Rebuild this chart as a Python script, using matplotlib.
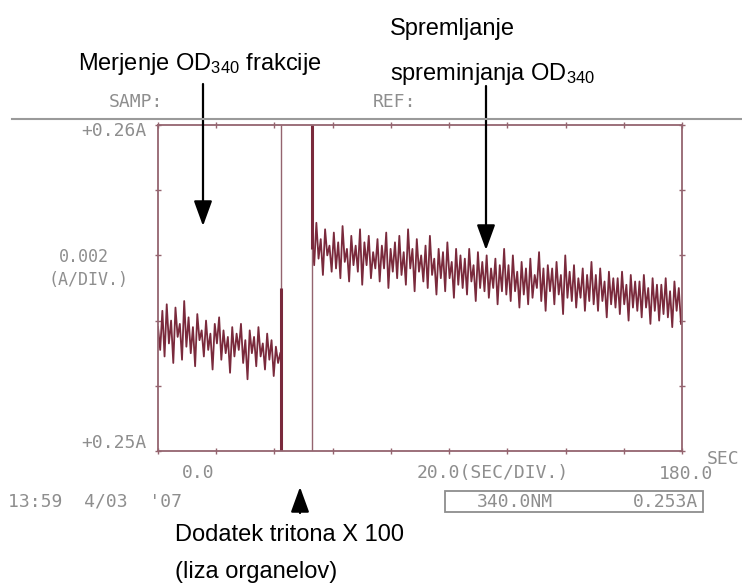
import numpy as np
import matplotlib
matplotlib.use('Agg')
import matplotlib.pyplot as plt
from matplotlib.lines import Line2D
from matplotlib.patches import Rectangle, FancyArrowPatch

plt.rcParams['mathtext.fontset'] = 'custom'
plt.rcParams['mathtext.rm'] = 'Liberation Sans'
plt.rcParams['mathtext.it'] = 'Liberation Sans:italic'

# recorder settings
t_min, t_max, t_div = 0.0, 180.0, 20.0
a_min, a_max, a_div = 0.250, 0.260, 0.002
dt = 0.75  # sample spacing (s)

# absorbance x 1e4, before triton (t = 0 .. 42 s)
seg1 = [2538, 2531, 2543, 2529, 2545, 2533, 2540, 2527, 2544, 2535,
        2539, 2528, 2546, 2532, 2541, 2530, 2538, 2526, 2542, 2534,
        2537, 2529, 2540, 2531, 2536, 2525, 2539, 2533, 2541, 2528,
        2537, 2530, 2535, 2524, 2538, 2529, 2536, 2531, 2539, 2527,
        2534, 2522, 2537, 2530, 2535, 2526, 2538, 2529, 2533, 2525,
        2536, 2528, 2534, 2523, 2532, 2527, 2530]
seg1_start = 0.0

# absorbance x 1e4, after triton (t = 52.9 .. 180 s)
seg2 = [2566, 2557, 2570, 2559, 2565, 2554, 2568, 2560, 2563, 2555,
        2567, 2556, 2564, 2553, 2569, 2558, 2562, 2552, 2566, 2557,
        2563, 2555, 2568, 2551, 2564, 2557, 2566, 2553, 2561, 2556,
        2565, 2552, 2563, 2556, 2567, 2550, 2562, 2555, 2564, 2553,
        2566, 2554, 2561, 2551, 2568, 2556, 2562, 2549, 2565, 2555,
        2560, 2552, 2563, 2550, 2566, 2554, 2559, 2548, 2562, 2553,
        2561, 2549, 2564, 2553, 2558, 2547, 2562, 2551, 2560, 2550,
        2559, 2548, 2562, 2552, 2557, 2546, 2561, 2550, 2558, 2549,
        2560, 2547, 2556, 2550, 2559, 2545, 2557, 2549, 2562, 2548,
        2557, 2546, 2560, 2549, 2555, 2544, 2558, 2548, 2556, 2545,
        2559, 2547, 2554, 2550, 2561, 2546, 2556, 2543, 2557, 2549,
        2556, 2545, 2558, 2548, 2554, 2542, 2560, 2547, 2555, 2546,
        2557, 2544, 2553, 2547, 2556, 2543, 2554, 2546, 2558, 2545,
        2554, 2543, 2556, 2546, 2552, 2541, 2555, 2545, 2553, 2544,
        2553, 2542, 2555, 2545, 2551, 2540, 2554, 2544, 2552, 2543,
        2552, 2541, 2554, 2544, 2550, 2539, 2553, 2543, 2551, 2540,
        2551, 2542, 2553, 2541, 2549, 2538, 2552, 2543, 2550, 2539]
seg2_start = 52.9

# pen jumps when triton was added
drop_t, drop_top = 42.3, 0.2550
jump_t, jump_bottom = 52.9, 0.2562

date_txt = "13:59  4/03  '07"
wave_txt = "340.0NM"
read_txt = "0.253A"

trace_c = '#7a2a3c'
frame_c = '#94646f'
print_c = '#8e8e8e'

fig = plt.figure(figsize=(7.42, 5.86), dpi=100)
W, H = 742, 586
ax = fig.add_axes([158 / W, 1 - 451 / H, 524 / W, 326 / H])

t1 = seg1_start + dt * np.arange(len(seg1))
t2 = seg2_start + dt * np.arange(len(seg2))
ax.plot(t1, np.array(seg1) / 1e4, color=trace_c, lw=1.3)
ax.plot(t2, np.array(seg2) / 1e4, color=trace_c, lw=1.3)

ax.vlines([drop_t, jump_t], a_min, a_max, color=frame_c, lw=1.0)
ax.vlines(drop_t, a_min, drop_top, color=trace_c, lw=2.2)
ax.vlines(jump_t, jump_bottom, a_max, color=trace_c, lw=2.2)

ax.set_xlim(t_min, t_max)
ax.set_ylim(a_min, a_max)
ax.set_xticks(np.arange(t_min, t_max + 1, t_div))
ax.set_yticks(np.arange(a_min, a_max + 1e-6, a_div))
ax.tick_params(direction='inout', length=5, width=1, color=frame_c,
               top=True, right=True, labelbottom=False, labelleft=False)
for s in ax.spines.values():
    s.set_color(frame_c)
    s.set_linewidth(1.3)


def ptxt(x, y, s, ha='center', size=13):
    # printer text, x/y in pixels from top-left
    fig.text(x / W, 1 - y / H, s, ha=ha, va='center', family='DejaVu Sans Mono',
             color=print_c, fontsize=size)


# printout texts
fig.add_artist(Line2D([12 / W, 1.0], [1 - 119 / H] * 2, color='#9a9a9a', lw=1.5))
ptxt(136, 102, 'SAMP:')
ptxt(395, 102, 'REF:')
ptxt(146, 131, '+0.26A', ha='right')
ptxt(146, 443, '+0.25A', ha='right')
ptxt(84, 257, '0.002', size=12)
ptxt(88, 280, '(A/DIV.)', size=12)
ptxt(198, 473, '0.0')
ptxt(493, 473, '20.0(SEC/DIV.)')
ptxt(686, 474, '180.0')
ptxt(723, 459, 'SEC')
ptxt(8, 502, date_txt, ha='left')
fig.add_artist(Rectangle((445 / W, 1 - 512 / H), 258 / W, 21 / H,
                         transform=fig.transFigure, fill=False, ec=print_c, lw=1.3))
ptxt(515, 502, wave_txt)
ptxt(698, 502, read_txt, ha='right')

# annotations (baseline positions)
sans = dict(family='Liberation Sans', color='black', fontsize=17, ha='left', va='baseline')
fig.text(78 / W, 1 - 70 / H, r'Merjenje OD$_{340}$ frakcije', **sans)
fig.text(390 / W, 1 - 35 / H, 'Spremljanje', **sans)
fig.text(390 / W, 1 - 80 / H, r'spreminjanja OD$_{340}$', **sans)
fig.text(175 / W, 1 - 541 / H, 'Dodatek tritona X 100', **sans)
fig.text(175 / W, 1 - 578 / H, '(liza organelov)', **sans)

arr = dict(arrowstyle='-|>,head_width=0.4,head_length=1.1', color='black', lw=1.6)
for x0, y0, x1, y1 in [(203, 84, 203, 226), (486, 86, 486, 250), (300, 513, 300, 487)]:
    fig.add_artist(FancyArrowPatch(
        (x0 / W, 1 - y0 / H), (x1 / W, 1 - y1 / H), transform=fig.transFigure,
        mutation_scale=14, shrinkA=0, shrinkB=0, **arr))

fig.savefig('out.png', dpi=100)
